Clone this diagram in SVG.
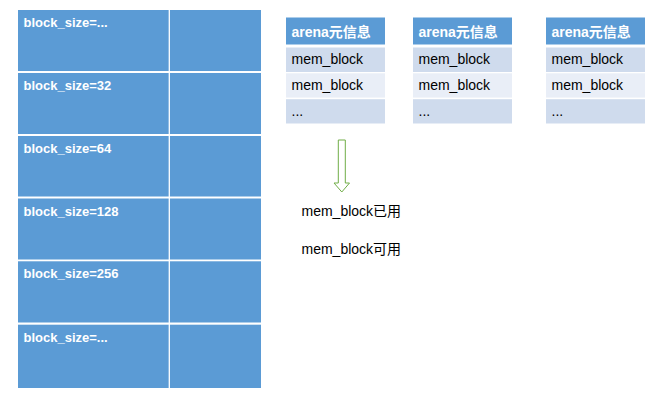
<svg xmlns="http://www.w3.org/2000/svg" width="665" height="406" viewBox="0 0 665 406">
<style>
.blk{fill:#5b9bd5}
.div{stroke:#ffffff;stroke-width:1.3}
.lbl{font-family:"Liberation Sans","Noto Sans CJK SC",sans-serif;font-size:13px;font-weight:bold;fill:#ffffff}
.hdr{fill:#5b9bd5}
.r1{fill:#cfdbed}
.r2{fill:#e9eef7}
.hdt{font-family:"Liberation Sans","Noto Sans CJK SC",sans-serif;font-size:14px;font-weight:bold;fill:#ffffff}
.txt{font-family:"Liberation Sans","Noto Sans CJK SC",sans-serif;font-size:14px;fill:#000000}
</style>
<rect width="665" height="406" fill="#ffffff"/>
<g id="block-table">
<g id="row-1"><rect class="blk" x="18" y="10" width="243" height="61"/><text class="lbl" x="23.5" y="27">block_size=...</text></g>
<g id="row-2"><rect class="blk" x="18" y="73" width="243" height="61"/><text class="lbl" x="23.5" y="90">block_size=32</text></g>
<g id="row-3"><rect class="blk" x="18" y="136" width="243" height="60.5"/><text class="lbl" x="23.5" y="153">block_size=64</text></g>
<g id="row-4"><rect class="blk" x="18" y="198.5" width="243" height="61"/><text class="lbl" x="23.5" y="215.5">block_size=128</text></g>
<g id="row-5"><rect class="blk" x="18" y="261.3" width="243" height="61.2"/><text class="lbl" x="23.5" y="278.3">block_size=256</text></g>
<g id="row-6"><rect class="blk" x="18" y="324.7" width="243" height="63.3"/><text class="lbl" x="23.5" y="341.7">block_size=...</text></g>
<line class="div" x1="169.3" y1="10" x2="169.3" y2="388"/>
</g>
<g id="arena-1">
<rect class="hdr" x="286" y="17.5" width="99" height="27"/>
<text class="hdt" x="291.5" y="37">arena元信息</text>
<rect class="r1" x="286" y="47.5" width="99" height="24.5"/>
<text class="txt" x="291.5" y="64">mem_block</text>
<rect class="r2" x="286" y="73.3" width="99" height="24.3"/>
<text class="txt" x="291.5" y="90">mem_block</text>
<rect class="r1" x="286" y="99.2" width="99" height="24.3"/>
<text class="txt" x="291.5" y="116">...</text>
</g>
<g id="arena-2">
<rect class="hdr" x="413" y="17.5" width="99" height="27"/>
<text class="hdt" x="418.5" y="37">arena元信息</text>
<rect class="r1" x="413" y="47.5" width="99" height="24.5"/>
<text class="txt" x="418.5" y="64">mem_block</text>
<rect class="r2" x="413" y="73.3" width="99" height="24.3"/>
<text class="txt" x="418.5" y="90">mem_block</text>
<rect class="r1" x="413" y="99.2" width="99" height="24.3"/>
<text class="txt" x="418.5" y="116">...</text>
</g>
<g id="arena-3">
<rect class="hdr" x="546" y="17.5" width="99" height="27"/>
<text class="hdt" x="551.5" y="37">arena元信息</text>
<rect class="r1" x="546" y="47.5" width="99" height="24.5"/>
<text class="txt" x="551.5" y="64">mem_block</text>
<rect class="r2" x="546" y="73.3" width="99" height="24.3"/>
<text class="txt" x="551.5" y="90">mem_block</text>
<rect class="r1" x="546" y="99.2" width="99" height="24.3"/>
<text class="txt" x="551.5" y="116">...</text>
</g>
<g id="connectors">
<path d="M338.3 140 H345.3 V183 H349.5 L341.8 192 L334 183 H338.3 Z" fill="#ffffff" stroke="#70ad47" stroke-width="1"/>
</g>
<g id="legend">
<text class="txt" x="301.5" y="216">mem_block已用</text>
<text class="txt" x="301.5" y="254">mem_block可用</text>
</g>
</svg>
